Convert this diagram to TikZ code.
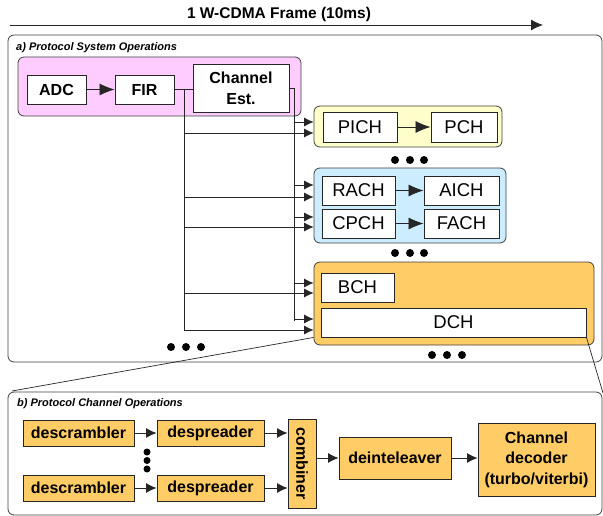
\documentclass[tikz,border=0pt]{standalone}
\usepackage{fontspec}
\setmainfont{Liberation Sans}
\usetikzlibrary{arrows.meta}
\definecolor{pinkc}{HTML}{FFCCFF}
\definecolor{yelc}{HTML}{FFFFCC}
\definecolor{bluec}{HTML}{CCECFF}
\definecolor{orangec}{HTML}{FFCC66}
\tikzset{
 frame/.style={draw=black!75, line width=0.8pt, rounded corners=6pt},
 grp/.style={draw=black!75, line width=0.8pt, rounded corners=6pt, inner sep=0pt},
 wbox/.style={draw=black!85, line width=0.9pt, fill=white, inner sep=0pt, font=\fontsize{18.5}{20}\selectfont},
 bbox/.style={wbox, font=\fontsize{16}{21}\selectfont\bfseries, align=center},
 obox/.style={draw=black!85, line width=0.9pt, fill=orangec, inner sep=0pt, font=\fontsize{16}{20.5}\selectfont\bfseries, align=center},
 ln/.style={draw=black!85, line width=0.8pt},
 arr/.style={ln, -{Latex[length=9.5pt,width=9pt]}},
 arrI/.style={ln, -{Latex[length=15pt,width=12pt]}},
 arrB/.style={ln, -{Latex[length=10.5pt,width=10pt]}},
 arrT/.style={ln, -{Latex[length=12pt,width=11pt]}},
 dot/.style={circle, fill=black, inner sep=0pt, minimum size=8pt},
 sdot/.style={circle, fill=black, inner sep=0pt, minimum size=7pt},
 lbl/.style={anchor=base west, inner sep=0pt, font=\fontsize{11}{13}\selectfont\bfseries\itshape},
}
\begin{document}
\begin{tikzpicture}[x=1pt,y=-1pt]
\useasboundingbox (0,0) rectangle (603,516);
% title
\node[anchor=base, inner sep=0pt, font=\fontsize{15.5}{18}\selectfont\bfseries] (title) at (279,18.3) {1 W-CDMA Frame (10ms)};
\coordinate (ts) at (10,25);
\coordinate (te) at (543,25);
\draw[arrT] (ts) -- (te);

% ---- a) ----
\draw[frame] (8,35) rectangle (602,362);
\node[lbl] (lblA) at (16,51) {a) Protocol System Operations};

\node[grp, fill=pinkc, minimum width=283pt, minimum height=59pt] (pink) at (159.5,86.5) {};
\node[bbox, minimum width=59pt, minimum height=29pt] (adc) at (56.5,89.5) {ADC};
\node[bbox, minimum width=59pt, minimum height=29pt] (fir) at (144.5,89.5) {FIR};
\node[bbox, minimum width=96pt, minimum height=48pt] (che) at (241,88) {Channel\\Est.};

\node[grp, fill=yelc, minimum width=188pt, minimum height=41pt] (yel) at (408,126.5) {};
\node[wbox, minimum width=74pt, minimum height=30pt] (pich) at (360,127) {PICH};
\node[wbox, minimum width=66pt, minimum height=30pt] (pch) at (464,127) {PCH};

\node[grp, fill=bluec, minimum width=192pt, minimum height=75pt] (blue) at (410,205.5) {};
\node[wbox, minimum width=73pt, minimum height=29pt] (rach) at (358.5,190.5) {RACH};
\node[wbox, minimum width=75pt, minimum height=29pt] (aich) at (461.5,190.5) {AICH};
\node[wbox, minimum width=73pt, minimum height=29pt] (cpch) at (358.5,223.5) {CPCH};
\node[wbox, minimum width=75pt, minimum height=29pt] (fach) at (461.5,223.5) {FACH};

\node[grp, fill=orangec, minimum width=280pt, minimum height=83pt] (orng) at (454,303.5) {};
\node[wbox, minimum width=73pt, minimum height=29pt] (bch) at (357.5,287.5) {BCH};
\node[wbox, minimum width=265pt, minimum height=29pt] (dch) at (453.5,322.5) {DCH};

% dots
\node[dot] (da1) at (395,160) {};
\node[dot] (da2) at (410,160) {};
\node[dot] (da3) at (424,160) {};
\node[dot] (db1) at (395,253) {};
\node[dot] (db2) at (410,253) {};
\node[dot] (db3) at (424,253) {};
\node[dot] (dc1) at (432,355) {};
\node[dot] (dc2) at (447,355) {};
\node[dot] (dc3) at (462,355) {};
\node[dot] (dd1) at (171,347) {};
\node[dot] (dd2) at (186,347) {};
\node[dot] (dd3) at (201,347) {};

% connectors a)
\draw[arrI] (adc) -- (fir);
\draw[arrI] (pich) -- (pch);
\draw[arrI] (rach) -- (aich);
\draw[arrI] (cpch) -- (fach);
\coordinate (l1t) at (184,89.5);
\coordinate (l1b) at (184,330);
\coordinate (l2t) at (294,88);
\coordinate (l2b) at (294,321);
\draw[ln] (fir.east) -- (che.west |- fir.east);
\draw[ln] (l1t) -- (l1b);
\draw[ln] (che.east) -- (l2t) -- (l2b);
\foreach \yy in {122,185,217,283,319} {
  \draw[arr] (294,\yy) -- (yel.west |- 0,\yy);
}
\foreach \yy in {133,197,227,293,330} {
  \draw[arr] (184,\yy) -- (yel.west |- 0,\yy);
}

% zoom lines
\coordinate (zl) at (12,391);
\coordinate (zr) at (603,393);
\draw[ln, line width=0.7pt] (orng.west |- dch.south) -- (zl);
\draw[ln, line width=0.7pt] (dch.south east) -- (zr);

% ---- b) ----
\draw[frame] (8,392) rectangle (602,515);
\node[lbl] (lblB) at (17,406.5) {b) Protocol Channel Operations};

\node[obox, minimum width=111pt, minimum height=26pt] (ds1) at (78.5,433) {descrambler};
\node[obox, minimum width=111pt, minimum height=26pt] (ds2) at (78.5,488) {descrambler};
\node[obox, minimum width=107pt, minimum height=26pt] (dp1) at (210.5,433) {despreader};
\node[obox, minimum width=107pt, minimum height=26pt] (dp2) at (210.5,488) {despreader};
\node[obox, minimum width=28pt, minimum height=89pt] (comb) at (302,463.5) {\rotatebox{-90}{combiner}};
\node[obox, minimum width=112pt, minimum height=42pt] (deint) at (395,458) {deinteleaver};
\node[obox, minimum width=117pt, minimum height=73pt] (dec) at (536.5,459.5) {Channel\\decoder\\(turbo/viterbi)};

\node[sdot] (ve1) at (147,452) {};
\node[sdot] (ve2) at (147,460.5) {};
\node[sdot] (ve3) at (147,469) {};

\draw[arrB] (ds1) -- (dp1);
\draw[arrB] (ds2) -- (dp2);
\draw[arrB] (dp1.east) -- (comb.west |- dp1.east);
\draw[arrB] (dp2.east) -- (comb.west |- dp2.east);
\draw[arrB] (comb.east |- deint.west) -- (deint.west);
\draw[arrB] (deint.east) -- (dec.west |- deint.east);
\end{tikzpicture}
\end{document}
